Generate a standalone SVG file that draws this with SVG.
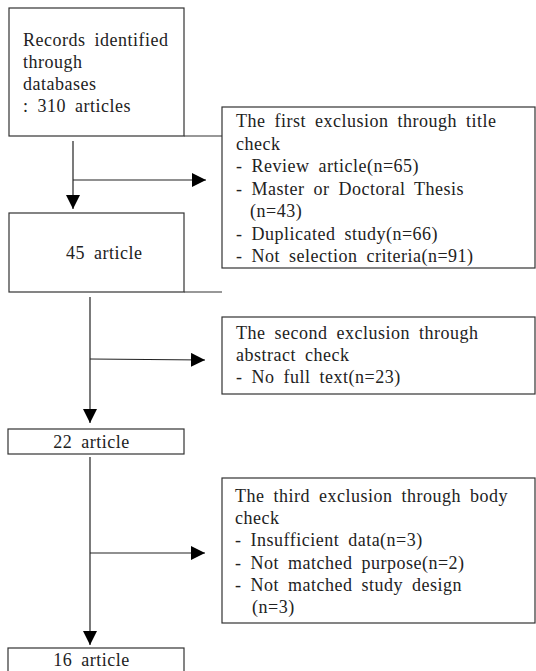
<svg xmlns="http://www.w3.org/2000/svg" width="536" height="671" viewBox="0 0 536 671">
<defs>
<marker id="ah" markerUnits="userSpaceOnUse" markerWidth="15" markerHeight="15" refX="14" refY="7" orient="auto">
<path d="M0,0 L14,7 L0,14 z" fill="#000"/>
</marker>
<style>
rect{fill:#fff;stroke:#333;stroke-width:1.2}
.ln{stroke:#333;stroke-width:1.2;fill:none}
.ar{stroke:#222;stroke-width:1.2;fill:none;marker-end:url(#ah)}
text{font-family:'Liberation Serif','DejaVu Serif',serif;font-size:18px;fill:#222;word-spacing:4px;letter-spacing:0.5px}
</style>
</defs>
<rect width="536" height="671" style="fill:#fff;stroke:none"/>
<g id="connectors">
<line class="ar" x1="73" y1="141" x2="73" y2="209"/>
<line class="ar" x1="73" y1="180" x2="206" y2="180"/>
<line class="ar" x1="90" y1="297" x2="90" y2="423"/>
<line class="ar" x1="90" y1="359" x2="205" y2="360"/>
<line class="ar" x1="90" y1="457" x2="90" y2="645"/>
<line class="ar" x1="90" y1="553" x2="205" y2="553"/>
<line class="ln" x1="184" y1="136" x2="222" y2="136"/>
<line class="ln" x1="184" y1="292" x2="222" y2="292"/>
</g>
<g font-family="Liberation Serif, serif">
<g id="records">
<rect x="9" y="8" width="175" height="128"/>
<text x="23" y="46">Records identified</text>
<text x="23" y="68">through</text>
<text x="23" y="90">databases</text>
<text x="23" y="112">: 310 articles</text>
</g>
<g id="first-exclusion">
<rect x="222" y="107" width="313" height="161"/>
<text x="236" y="127">The first exclusion through title</text>
<text x="236" y="149.5">check</text>
<text x="236" y="172">- Review article(n=65)</text>
<text x="236" y="194.5">- Master or Doctoral Thesis</text>
<text x="250" y="217">(n=43)</text>
<text x="236" y="239.5">- Duplicated study(n=66)</text>
<text x="236" y="262">- Not selection criteria(n=91)</text>
</g>
<g id="n45">
<rect x="9" y="213" width="175" height="79"/>
<text x="66" y="259">45 article</text>
</g>
<g id="second-exclusion">
<rect x="222" y="317" width="313" height="77"/>
<text x="236" y="339">The second exclusion through</text>
<text x="236" y="361">abstract check</text>
<text x="236" y="383">- No full text(n=23)</text>
</g>
<g id="n22">
<rect x="8" y="429" width="176" height="25"/>
<text x="91.5" y="448" text-anchor="middle">22 article</text>
</g>
<g id="third-exclusion">
<rect x="222" y="478" width="313" height="145"/>
<text x="235" y="502">The third exclusion through body</text>
<text x="235" y="524">check</text>
<text x="235" y="546">- Insufficient data(n=3)</text>
<text x="235" y="569">- Not matched purpose(n=2)</text>
<text x="235" y="591">- Not matched study design</text>
<text x="252" y="613">(n=3)</text>
</g>
<g id="n16">
<rect x="8" y="648" width="176" height="30"/>
<text x="91.5" y="666" text-anchor="middle">16 article</text>
</g>
</g>
</svg>
